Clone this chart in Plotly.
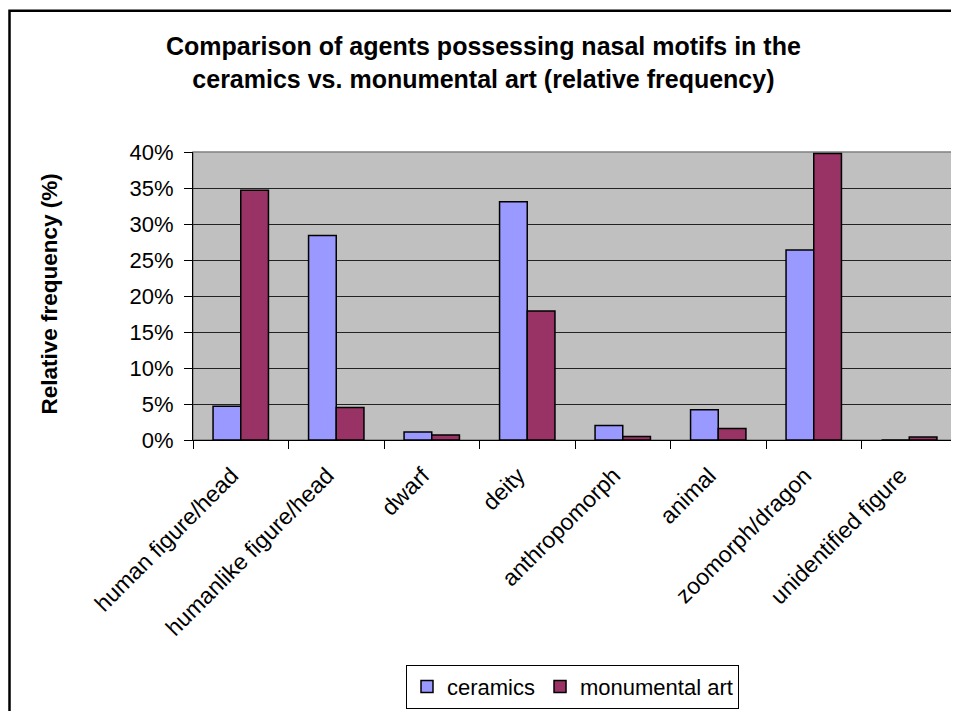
import plotly.graph_objects as go

categories = ["human figure/head", "humanlike figure/head", "dwarf", "deity",
              "anthropomorph", "animal", "zoomorph/dragon", "unidentified figure"]
ceramics = [4.7, 28.4, 1.1, 33.1, 2.0, 4.2, 26.4, 0.0]
monumental = [34.7, 4.5, 0.7, 17.9, 0.5, 1.6, 39.8, 0.4]
y_ticks = [0, 5, 10, 15, 20, 25, 30, 35, 40]

FONT = "Liberation Sans, Arial, sans-serif"
# page has an 8px body margin, so the figure is drawn 8px smaller and offset
OFF = 8
W, H = 959 - OFF, 711 - OFF
L, R, T, B = 193 - OFF, 2, 152 - OFF, 268
PW, PH = W - L - R, H - T - B


def px_x(page_x):
    return (page_x - OFF - L) / PW


def px_y(page_y):
    return (H - B - (page_y - OFF)) / PH


fig = go.Figure()
fig.add_trace(go.Bar(x=categories, y=ceramics, name="ceramics",
                     marker=dict(color="#9999FF", line=dict(color="black", width=1.5))))
fig.add_trace(go.Bar(x=categories, y=monumental, name="monumental art",
                     marker=dict(color="#993366", line=dict(color="black", width=1.5))))

fig.update_layout(
    width=W, height=H,
    margin=dict(l=L, r=R, t=T, b=B, pad=0),
    paper_bgcolor="white", plot_bgcolor="#C0C0C0",
    barmode="group", bargap=0.42, bargroupgap=0,
    font=dict(family=FONT, color="black", size=22),
    showlegend=True,
    legend=dict(orientation="h", x=px_x(406), xanchor="left",
                y=px_y(670), yanchor="top",
                bordercolor="black", borderwidth=1, bgcolor="white",
                font=dict(size=22), itemwidth=30, tracegroupgap=0),
)

fig.update_xaxes(
    tickangle=-45, tickson="boundaries", ticks="outside", ticklen=8,
    tickcolor="black", showline=True, linecolor="black", linewidth=1,
    mirror=False, showgrid=False, tickfont=dict(size=23),
    tickmode="array", tickvals=categories,
    ticktext=[c + "\u00a0\u00a0" for c in categories],
    ticklabelstandoff=3,
)
fig.update_yaxes(
    range=[0, 40], tickvals=y_ticks, ticktext=[f"{v}%" for v in y_ticks],
    ticks="outside", ticklen=8, tickcolor="black",
    showline=True, linecolor="black", linewidth=1,
    showgrid=True, gridcolor="#222222", gridwidth=1,
    zeroline=False, tickfont=dict(size=22), ticklabelstandoff=6,
)

# plot area grey border on top/right
fig.add_shape(type="rect", xref="paper", yref="paper", x0=0, x1=1, y0=0, y1=1,
              line=dict(color="#808080", width=1.5), layer="below", fillcolor="rgba(0,0,0,0)")
# outer chart border (cut off at right/bottom)
fig.add_shape(type="rect", xref="paper", yref="paper",
              x0=px_x(9.5), x1=px_x(990),
              y0=px_y(760), y1=px_y(9.2),
              line=dict(color="black", width=2.5), fillcolor="rgba(0,0,0,0)")

# title
fig.add_annotation(
    text="<b>Comparison of agents possessing nasal motifs in the<br>ceramics vs. monumental art (relative frequency)</b>",
    xref="paper", yref="paper", x=px_x(483), y=px_y(62),
    xanchor="center", yanchor="middle", showarrow=False,
    font=dict(size=25, family=FONT, color="black"), align="center",
)

# y-axis title
fig.add_annotation(
    text="<b>Relative frequency (%)</b>", xref="paper", yref="paper",
    x=px_x(50), y=px_y(296), xanchor="center", yanchor="middle",
    textangle=-90, showarrow=False, font=dict(size=22.5, family=FONT, color="black"),
)

fig.write_html("out.html")
